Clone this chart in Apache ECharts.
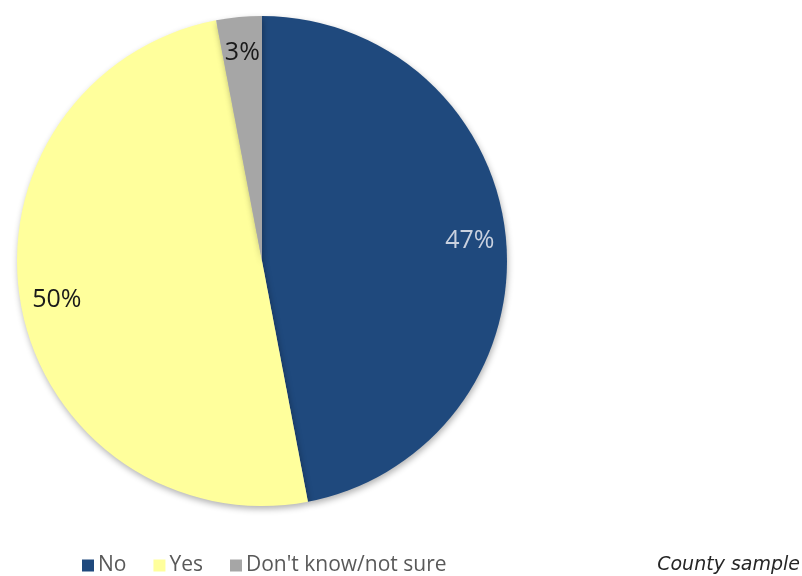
<!DOCTYPE html>
<html><head><meta charset="utf-8">
<script src="https://cdn.jsdelivr.net/npm/echarts@6/dist/echarts.min.js"></script>
<style>html,body{margin:0;padding:0;background:#fff}#c{width:802px;height:576px}</style>
</head><body><div id="c"></div>
<script>
const categories = ['No', 'Yes', "Don't know/not sure"];
const values = [47, 50, 3];
const colors = ['#1F497D', '#FFFF9C', '#A6A6A6'];
const labelColors = ['#C9D1DF', '#1a1a1a', '#1a1a1a'];
const footnote = 'County sample';

const chart = echarts.init(document.getElementById('c'), null, {renderer: 'canvas'});
const data = categories.map((n, i) => ({
  name: n, value: values[i],
  itemStyle: {color: colors[i]}
}));
const center = [262, 261];
const R = 245;
chart.setOption({
  animation: false,
  color: colors,
  legend: {
    left: 77, top: 550,
    itemWidth: 12, itemHeight: 12, itemGap: 27,
    icon: 'rect',
    textStyle: {fontFamily: 'Open Sans', fontSize: 21, color: '#595959', padding: [0,0,0,-1]},
    data: categories
  },
  graphic: [{
    type: 'text', right: 2, top: 556,
    style: {text: footnote, font: 'italic 19px "DejaVu Sans"', fill: '#262626'}
  }],
  series: [{
    type: 'pie', center: center, radius: [0, R],
    startAngle: 90, clockwise: true,
    label: {show: false}, labelLine: {show: false},
    itemStyle: {shadowBlur: 6, shadowOffsetY: 3, shadowOffsetX: 1, shadowColor: 'rgba(0,0,0,0.3)'},
    emphasis: {disabled: true},
    data: data
  }, {
    type: 'pie', center: center, radius: [R * 0.68, R],
    startAngle: 90, clockwise: true, silent: true,
    itemStyle: {color: 'rgba(0,0,0,0)'},
    label: {show: true, position: 'inside', formatter: '{c}%', fontFamily: 'Open Sans', fontSize: 25},
    labelLine: {show: false},
    emphasis: {disabled: true},
    data: categories.map((n, i) => ({name: n, value: values[i], itemStyle: {color: 'rgba(0,0,0,0)'}, label: {color: labelColors[i]}}))
  }]
});
</script></body></html>
